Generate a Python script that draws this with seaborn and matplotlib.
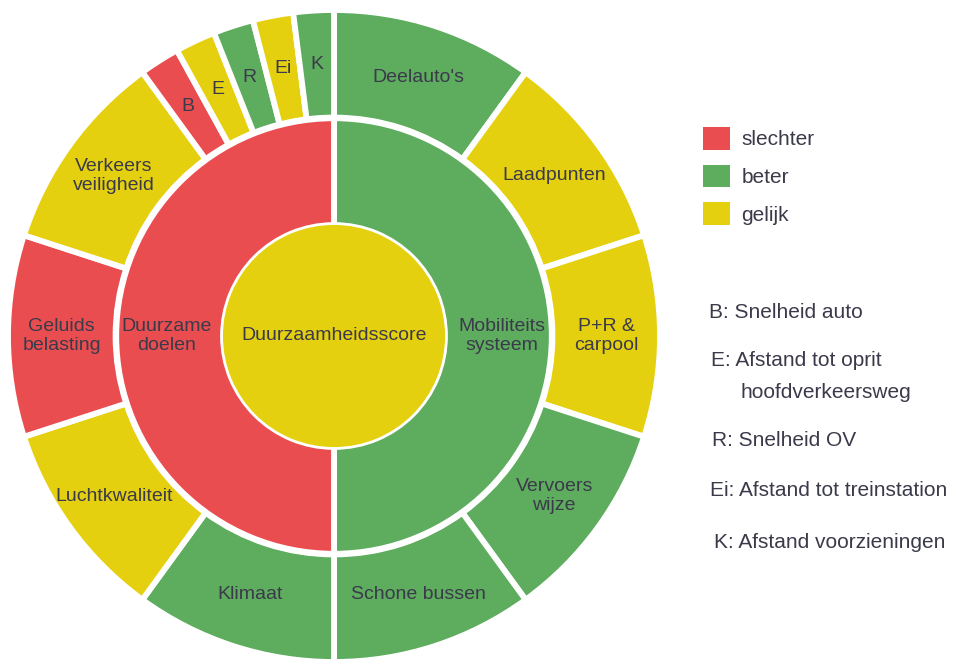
import matplotlib
matplotlib.use("Agg")
import matplotlib.pyplot as plt
import seaborn as sns
from matplotlib.patches import Patch

sns.set_style("white")
plt.rcParams['font.family'] = ['Liberation Sans', 'DejaVu Sans']

# ---- data ----
center_label = "Duurzaamheidsscore"
center_status = "gelijk"

middle_labels = ["Mobiliteits\nsysteem", "Duurzame\ndoelen"]
middle_values = [25, 25]
middle_status = ["beter", "slechter"]

outer_labels = ["Deelauto's", "Laadpunten", "P+R &\ncarpool", "Vervoers\nwijze", "Schone bussen",
                "Klimaat", "Luchtkwaliteit", "Geluids\nbelasting", "Verkeers\nveiligheid",
                "B", "E", "R", "Ei", "K"]
outer_values = [5, 5, 5, 5, 5, 5, 5, 5, 5, 1, 1, 1, 1, 1]
outer_status = ["beter", "gelijk", "gelijk", "beter", "beter",
                "beter", "gelijk", "slechter", "gelijk",
                "slechter", "gelijk", "beter", "gelijk", "beter"]

legend_labels = ["slechter", "beter", "gelijk"]
note_lines = ["B: Snelheid auto", "E: Afstand tot oprit", "hoofdverkeersweg", "R: Snelheid OV",
              "Ei: Afstand tot treinstation", "K: Afstand voorzieningen"]

palette = dict(zip(legend_labels, sns.color_palette(["#EA4D50", "#5EAC5E", "#E5D010"])))
txt_color = "#3a3a4a"

fig = plt.figure(figsize=(9.76, 6.6), dpi=100)
ax = fig.add_axes([8/976, -2/660, 652/976, 652/660])

wp = dict(edgecolor="white", linewidth=4.2)
fs = 14
# outer ring
ax.pie(outer_values, radius=1.0, startangle=90, counterclock=False,
       colors=[palette[s] for s in outer_status],
       wedgeprops=dict(width=0.33, **wp),
       labels=outer_labels, labeldistance=0.835,
       textprops=dict(ha="center", va="center", fontsize=fs, color=txt_color, linespacing=1.15))
# middle ring
ax.pie(middle_values, radius=0.668, startangle=90, counterclock=False,
       colors=[palette[s] for s in middle_status],
       wedgeprops=dict(width=0.33, **wp),
       labels=middle_labels, labeldistance=0.77,
       textprops=dict(ha="center", va="center", fontsize=fs, color=txt_color, linespacing=1.15))
# center
ax.pie([1], radius=0.345, colors=[palette[center_status]],
       wedgeprops=dict(edgecolor="white", linewidth=2))
ax.text(0, 0, center_label, ha="center", va="center", fontsize=fs, color=txt_color)
ax.set_xlim(-1, 1)
ax.set_ylim(-1, 1)
ax.set_aspect("equal")
ax.axis("off")

handles = [Patch(facecolor=palette[l], edgecolor="none") for l in legend_labels]
fig.legend(handles, legend_labels, loc="upper left", bbox_to_anchor=(703/976, 1-127/660),
           frameon=False, fontsize=15, handlelength=1.3, handleheight=1.3,
           handletextpad=0.55, labelspacing=0.72, borderpad=0, borderaxespad=0,
           labelcolor=txt_color)

xs = [709, 711, 740, 712, 710, 714]
ys = [313, 360, 392, 440, 490, 543]
for x, y, n in zip(xs, ys, note_lines):
    fig.text(x/976, 1 - y/660, n, ha="left", va="center", fontsize=15, color=txt_color)

fig.savefig("out.png", dpi=100, facecolor="white")
